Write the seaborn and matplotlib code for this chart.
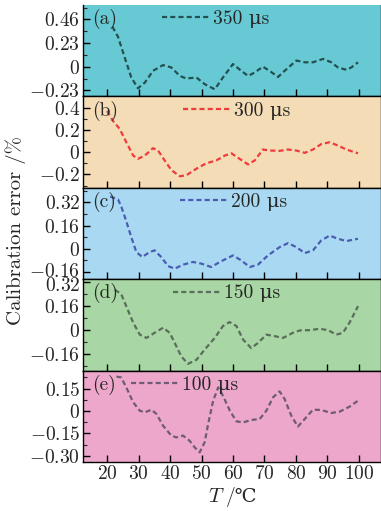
import matplotlib
matplotlib.use("Agg")
import matplotlib.pyplot as plt
from matplotlib.ticker import MultipleLocator
from matplotlib.transforms import ScaledTranslation
import seaborn as sns

# temperatures (°C) and calibration error (%)
x_350 = [21.7, 23.5, 25.6, 27.7, 29.8, 32, 34.6, 37.8, 40.4, 43.1, 45.2, 48.4, 51, 54.2, 56.8, 60,
         62.6, 64.8, 66.9, 69.5, 71.6, 74.3, 76.4, 80.1, 82.8, 85.4, 88.6, 91.2, 93.3, 96, 97.6, 99.7]
y_350 = [0.39, 0.29, 0.09, -0.105, -0.21, -0.155, -0.04, 0.016, -0.007, -0.09, -0.115, -0.105, -0.17, -0.22,
         -0.105, 0.026, -0.04, -0.09, -0.056, 0.0, -0.04, -0.1, -0.04, 0.06, 0.043, 0.043, 0.076, 0.043,
         -0.007, -0.03, -0.007, 0.043]

x_300 = [20, 21.9, 24, 26.1, 28.3, 29.8, 32, 34.6, 36.2, 38.3, 40.4, 43.1, 45.2, 48.4, 51.5, 54.7, 57.4,
         59.5, 62.1, 64.8, 66.9, 69.5, 71.6, 74.8, 77.4, 80.1, 82.8, 85.4, 88.1, 90.7, 93.3, 96, 99.7]
y_300 = [0.37, 0.28, 0.21, 0.09, -0.03, -0.06, -0.03, 0.036, 0.015, -0.074, -0.16, -0.216, -0.207, -0.148,
         -0.1, -0.074, -0.03, -0.01, -0.06, -0.11, -0.074, 0.024, 0.015, 0.012, 0.024, 0.015, -0.006, 0.024,
         0.074, 0.089, 0.06, 0.024, -0.01]

x_200 = [21, 23.5, 24.6, 26.1, 27.7, 29.3, 31.2, 33.5, 35.1, 37.2, 39.4, 41.5, 44.1, 47.3, 50, 53.1, 55.8,
         60, 62.6, 65.3, 67.9, 71.1, 74.8, 77.5, 80.1, 82.8, 85.4, 88, 90.7, 93.3, 96, 99.7]
y_200 = [0.36, 0.34, 0.286, 0.19, 0.08, -0.023, -0.057, -0.023, -0.011, -0.057, -0.12, -0.137, -0.11,
         -0.091, -0.103, -0.126, -0.091, -0.046, -0.08, -0.126, -0.11, -0.046, 0.011, 0.039, 0.011, -0.03,
         -0.011, 0.057, 0.091, 0.069, 0.053, 0.069]

x_150 = [22.5, 24.5, 26.1, 28.3, 30.4, 32.5, 35.1, 37.8, 39.9, 41.5, 43.6, 45.7, 48.4, 51, 54.2, 56.8,
         58.9, 61.1, 63.2, 65.8, 67.9, 70.6, 73.2, 75.9, 79, 81.2, 84.3, 87.5, 90.2, 92.8, 94.9, 97, 99.7]
y_150 = [0.27, 0.24, 0.16, 0.05, -0.03, -0.052, -0.018, 0.016, -0.018, -0.086, -0.176, -0.225, -0.198,
         -0.13, -0.052, 0.027, 0.054, 0.027, -0.063, -0.12, -0.086, -0.03, -0.04, -0.052, -0.018, -0.002,
         0.0, 0.009, 0.0, -0.03, -0.018, 0.05, 0.16]

x_100 = [23, 24.5, 26.1, 28.3, 30.4, 32, 34.1, 35.7, 37.8, 40.4, 42, 44.1, 46.2, 47.8, 49.4, 51, 52.1,
         53.7, 55.3, 56.8, 59, 61.1, 63.2, 65.8, 68.5, 70.6, 72.7, 74.8, 76.4, 78.5, 80.6, 82.8, 85.4, 88,
         91.2, 93.9, 97, 99.7]
y_100 = [0.23, 0.224, 0.158, 0.058, 0.002, -0.009, 0.009, -0.02, -0.098, -0.164, -0.176, -0.164, -0.198,
         -0.242, -0.276, -0.209, -0.087, 0.069, 0.158, 0.102, 0.002, -0.069, -0.076, -0.06, -0.053, 0.002,
         0.091, 0.131, 0.08, -0.031, -0.104, -0.053, 0.009, 0.007, -0.013, -0.004, 0.029, 0.069]

panel_tags = ["(a)", "(b)", "(c)", "(d)", "(e)"]
series_names = ["350 μs", "300 μs", "200 μs", "150 μs", "100 μs"]
xs = [x_350, x_300, x_200, x_150, x_100]
ys = [y_350, y_300, y_200, y_150, y_100]
y_ticks = [[-0.23, 0, 0.23, 0.46], [-0.2, 0, 0.2, 0.4], [-0.16, 0, 0.16, 0.32],
           [-0.16, 0, 0.16, 0.32], [-0.30, -0.15, 0, 0.15]]
y_tick_labels = [["−0.23", "0", "0.23", "0.46"], ["−0.2", "0", "0.2", "0.4"],
                 ["−0.16", "0", "0.16", "0.32"], ["−0.16", "0", "0.16", "0.32"],
                 ["−0.30", "−0.15", "0", "0.15"]]
x_ticks = [20, 30, 40, 50, 60, 70, 80, 90, 100]

# style
y_lims = [(-0.29, 0.60), (-0.32, 0.50), (-0.21, 0.42), (-0.27, 0.34), (-0.34, 0.27)]
minor_steps = [0.115, 0.1, 0.08, 0.08, 0.075]
bg_colors = ["#67c9d4", "#f3dcb6", "#a9d9f2", "#a8d6a4", "#eda7ca"]
line_colors = ["#24504f", "#ee3b3b", "#4a5db3", "#5a6e5c", "#6f5b74"]
legend_x = [0.265, 0.336, 0.326, 0.302, 0.161]

sns.set_style("ticks")
plt.rcParams["font.family"] = ["cmr10", "DejaVu Serif"]
plt.rcParams["mathtext.fontset"] = "cm"
plt.rcParams["axes.formatter.use_mathtext"] = True
plt.rcParams["axes.unicode_minus"] = False
fs = 14

fig, axes = plt.subplots(5, 1, figsize=(3.81, 5.11), dpi=100, sharex=True,
                         gridspec_kw=dict(hspace=0, left=0.218, right=1.0, top=0.99, bottom=0.096))

for i, ax in enumerate(axes):
    ax.set_facecolor(bg_colors[i])
    sns.lineplot(x=xs[i], y=ys[i], ax=ax, color=line_colors[i], lw=1.6,
                 linestyle=(0, (2.3, 1.4)), label=series_names[i])
    ax.set_xlim(12.38, 107.0)
    ax.set_ylim(*y_lims[i])
    ax.set_yticks(y_ticks[i])
    ax.set_yticklabels(["$" + t.replace("−", "-") + "$" for t in y_tick_labels[i]])
    ax.yaxis.set_minor_locator(MultipleLocator(minor_steps[i]))
    ax.set_xticks(x_ticks)
    ax.tick_params(axis="both", which="major", direction="in", length=5, width=1,
                   labelsize=fs, pad=2, top=False, right=False, color="black")
    ax.tick_params(axis="y", which="minor", direction="in", length=3, width=0.8, left=True)
    ax.tick_params(axis="x", which="minor", bottom=False)
    for s in ax.spines.values():
        s.set_color("black")
        s.set_linewidth(1)
    if i == 0:
        ax.spines["top"].set_visible(False)
    ax.text(0.03, 0.845, panel_tags[i], transform=ax.transAxes, fontsize=fs, va="center", ha="left")
    ax.legend(loc="center left", bbox_to_anchor=(legend_x[i], 0.845), frameon=False,
              fontsize=fs, handlelength=2.4, handletextpad=0.2, borderpad=0, borderaxespad=0)
    ax.set_ylabel("")
    ax.set_xlabel("")

# nudge the two crowded labels where panels (c) and (d) meet
up = ScaledTranslation(0, 2 / 100, fig.dpi_scale_trans)
down = ScaledTranslation(0, -2 / 100, fig.dpi_scale_trans)
lab_c = axes[2].yaxis.get_major_ticks()[0].label1
lab_c.set_transform(lab_c.get_transform() + up)
lab_d = axes[3].yaxis.get_major_ticks()[-1].label1
lab_d.set_transform(lab_d.get_transform() + down)

axes[-1].set_xticklabels(["$%d$" % t for t in x_ticks])
fig.text(0.591, 0.027, "$T$", fontsize=fs + 1, ha="right", va="center")
fig.text(0.593, 0.027, "/℃", fontsize=fs, ha="left", va="center")
fig.text(0.042, 0.548, "Calibration error /%", rotation=90, fontsize=15, ha="center", va="center")

fig.savefig("out.png", dpi=100)
